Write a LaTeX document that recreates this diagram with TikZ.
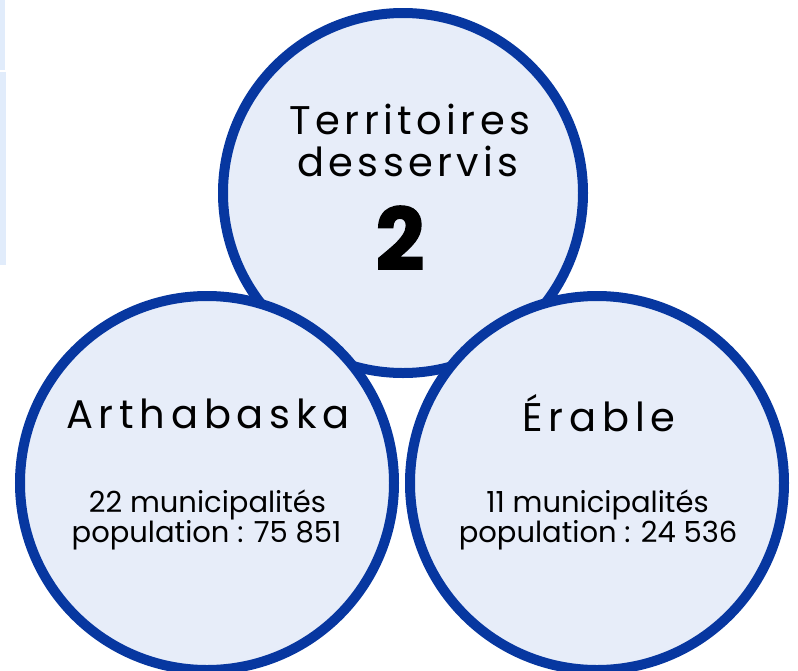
\documentclass[tikz,border=0pt]{standalone}
\usepackage{fontspec}
\newfontfamily\titlefont{Poppins}[LetterSpace=11]
\newfontfamily\namefont{Poppins}[LetterSpace=14.5]
\newfontfamily\bodyfont{Poppins}
\newfontfamily\bigfont{Poppins}[FakeBold=1.5]
\definecolor{ringblue}{HTML}{0737A0}
\definecolor{discfill}{HTML}{E7EDF9}
\definecolor{stripfill}{HTML}{E1ECFB}
\tikzset{
  disc/.style={circle, draw=ringblue, fill=discfill, line width=10pt, inner sep=0pt},
  titletext/.style={anchor=base, inner sep=0pt, font=\titlefont\fontsize{40}{42}\selectfont},
  nametext/.style={anchor=base, inner sep=0pt, font=\namefont\fontsize{40}{42}\selectfont},
  bodytext/.style={anchor=base, inner sep=0pt, font=\bodyfont\fontsize{29}{30}\selectfont},
  numtext/.style={anchor=base, inner sep=0pt, font=\bigfont\bfseries\fontsize{86}{90}\selectfont},
}
\begin{document}
\begin{tikzpicture}[x=1pt,y=-1pt]
\useasboundingbox (0,0) rectangle (798,670);
\fill[stripfill] (0,0) rectangle (5,70);
\fill[stripfill] (0,72) rectangle (6,265);
% circles
\node[disc, minimum size=360pt] (top) at (403,193) {};
\node[disc, minimum size=374pt] (left) at (207,483) {};
\node[disc, minimum size=374pt] (right) at (597,483) {};
% top texts
\node[titletext] (t1) at (410,134) {Territoires};
\node[titletext] (t2) at (408,176) {desservis};
\node[numtext] (num) at (400,270) {2};
% left texts
\node[nametext] (l1) at (208,428) {Arthabaska};
\node[bodytext] (l2) at (207.5,512) {22 municipalités};
\node[bodytext] (l3) at (206.5,542) {population : 75 851};
% right texts
\node[nametext] (r1) at (599,431) {Érable};
\node[bodytext] (r2) at (597.5,512) {11 municipalités};
\node[bodytext] (r3) at (598,542) {population : 24 536};
\end{tikzpicture}
\end{document}
